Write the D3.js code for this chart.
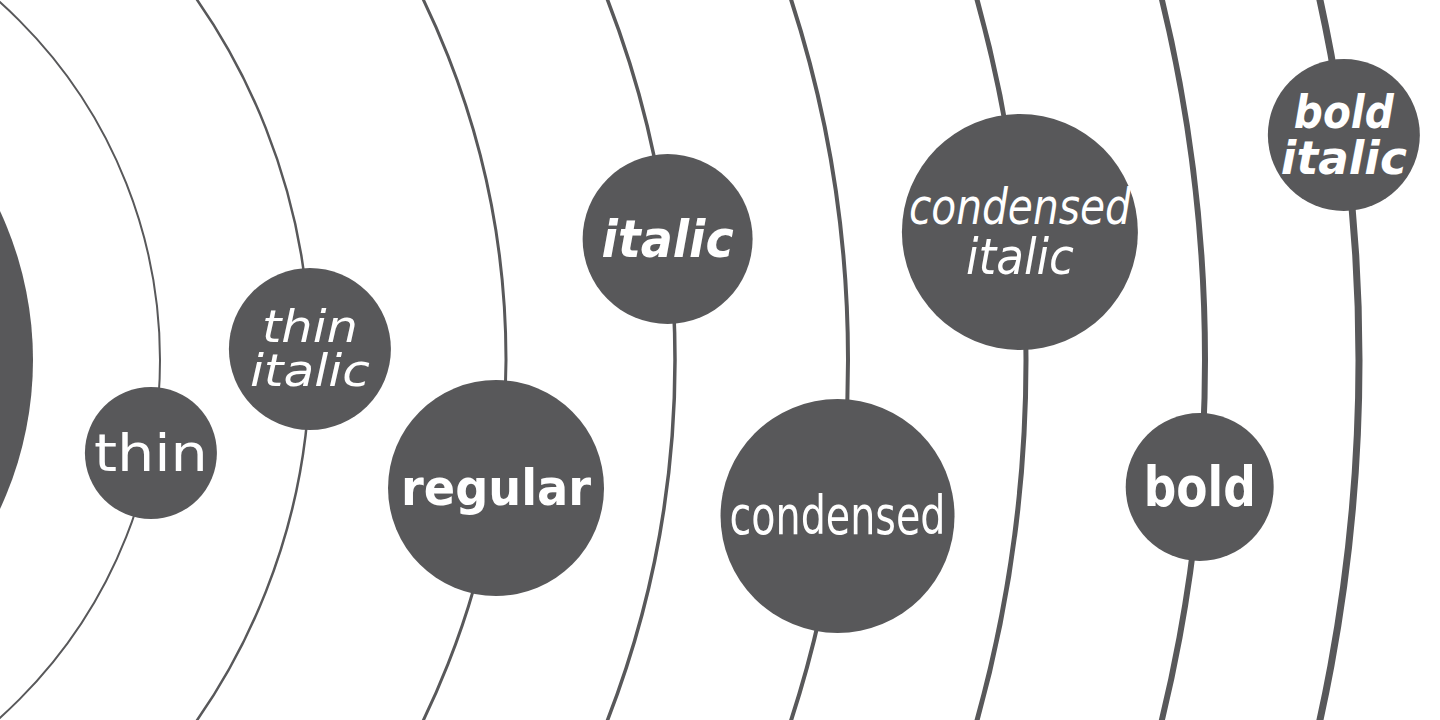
<!DOCTYPE html>
<html><head><meta charset="utf-8">
<script src="https://cdn.jsdelivr.net/npm/d3@7"></script>
<style>body{margin:0;background:#fff}svg{display:block}</style>
</head><body>
<svg id="chart" width="1440" height="720"></svg>
<script>
// orbits around a sun far to the left
var orbitRadius = [480, 630, 826, 995, 1168, 1346, 1525, 1679];
var orbitWidth  = [2, 2.5, 3, 3.5, 4, 5, 6, 7];
// one planet per orbit
var planetY      = [453, 349, 488, 239, 516, 232, 487, 135];
var planetSize   = [66, 81, 108, 85, 117, 118, 74, 76];
var planetLabels = [["thin"], ["thin", "italic"], ["regular"], ["italic"], ["condensed"],
                    ["condensed", "italic"], ["bold"], ["bold", "italic"]];
var labelStyle = [
  {size: 52, weight: 300, italic: false, family: "DejaVu Sans Condensed", len: [114]},
  {size: 44, weight: 300, italic: true,  family: "DejaVu Sans Condensed", len: [96, 120]},
  {size: 50, weight: 600, italic: false, family: "DejaVu Sans", len: [190]},
  {size: 52, weight: 600, italic: true,  family: "DejaVu Sans", len: [132]},
  {size: 54, weight: 400, italic: false, family: "DejaVu Sans Condensed", len: [216]},
  {size: 50, weight: 400, italic: true,  family: "DejaVu Sans Condensed", len: [222, 108]},
  {size: 56, weight: 700, italic: false, family: "DejaVu Sans", len: [112]},
  {size: 46, weight: 700, italic: true,  family: "DejaVu Sans", len: [100, 126]}
];
var sunX = -320, sunY = 360, sunR = 353;
var fill = "#58585a";

var svg = d3.select("#chart");

svg.append("circle").attr("cx", sunX).attr("cy", sunY).attr("r", sunR).attr("fill", fill);

svg.selectAll("circle.orbit").data(orbitRadius).enter().append("circle")
  .attr("class", "orbit")
  .attr("cx", sunX).attr("cy", sunY).attr("r", d => d)
  .attr("fill", "none").attr("stroke", fill)
  .attr("stroke-width", (d, i) => orbitWidth[i]);

var planets = orbitRadius.map(function(R, i) {
  var dy = planetY[i] - sunY;
  return {x: sunX + Math.sqrt(R * R - dy * dy), y: planetY[i], r: planetSize[i],
          lines: planetLabels[i], st: labelStyle[i]};
});

var g = svg.selectAll("g.planet").data(planets).enter().append("g")
  .attr("class", "planet")
  .attr("transform", d => "translate(" + d.x + "," + d.y + ")");

g.append("circle").attr("r", d => d.r).attr("fill", fill);

g.each(function(d) {
  var n = d.lines.length;
  var lh = d.st.size * 1.0;
  d3.select(this).selectAll("text").data(d.lines).enter().append("text")
    .attr("text-anchor", "middle")
    .attr("y", (t, j) => (j - (n - 1) / 2) * lh + d.st.size * 0.34)
    .attr("fill", "#fff")
    .attr("font-family", d.st.family)
    .attr("font-size", d.st.size)
    .attr("font-weight", d.st.weight)
    .attr("font-style", d.st.italic ? "italic" : "normal")
    .attr("textLength", (t, j) => d.st.len[j])
    .attr("lengthAdjust", "spacingAndGlyphs")
    .text(t => t);
});
</script>
</body></html>
